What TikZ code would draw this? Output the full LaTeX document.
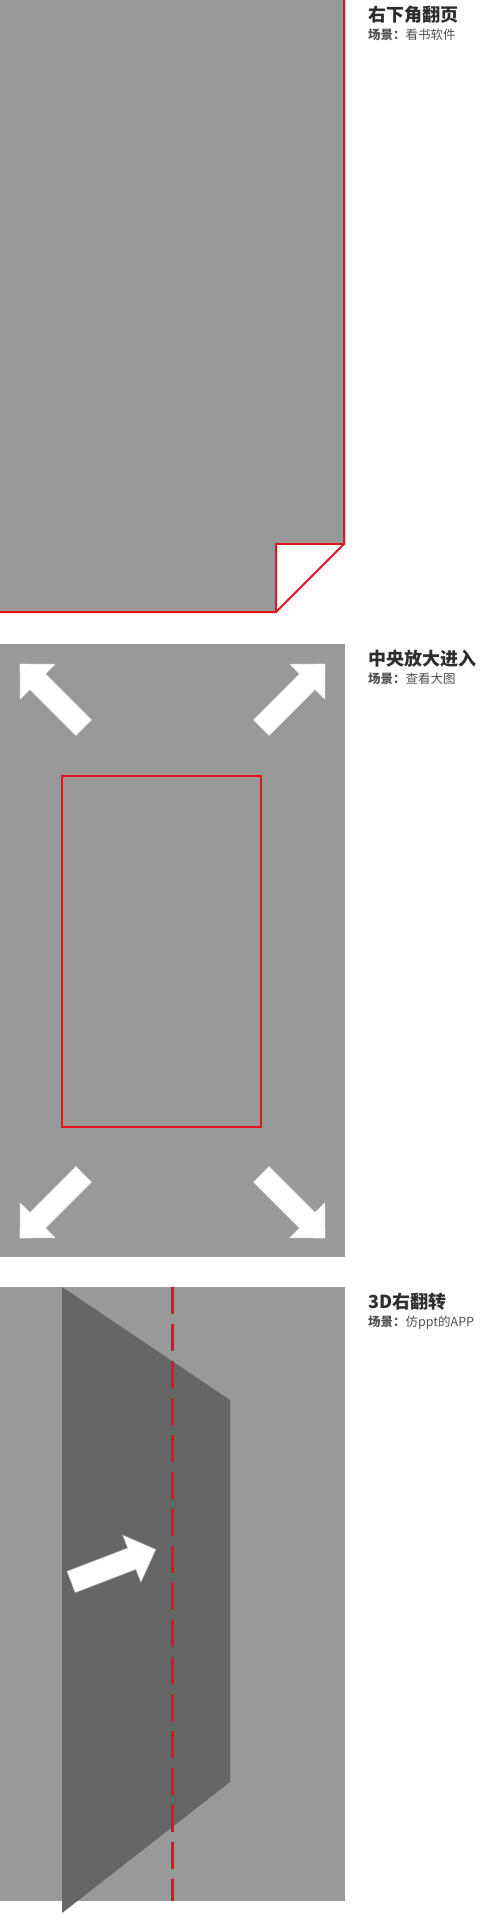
\documentclass[tikz,border=0pt]{standalone}
\usepackage{fontspec}
\newfontfamily\cjk{Noto Sans CJK SC}
\usepackage{xcolor}

\definecolor{pagegray}{RGB}{153,153,153}
\definecolor{darkpage}{RGB}{102,102,102}
\definecolor{markred}{RGB}{228,18,28}
\definecolor{titlegray}{RGB}{45,45,45}
\definecolor{subgray}{RGB}{80,80,80}

\begin{document}
\begin{tikzpicture}[
  x=1pt, y=-1pt,
  page/.style={fill=pagegray},
  redline/.style={draw=markred, line width=2pt},
  foldline/.style={draw=markred, line width=3pt, dash pattern=on 27pt off 10pt},
  fatarrow/.pic={
    \fill[white, draw=black!35, line width=0.5pt]
      (0,-11.5) -- (65,-11.5) -- (65,-25.5) -- (91,0) -- (65,25.5) -- (65,11.5) -- (0,11.5) -- cycle;
  },
  title/.style={anchor=base west, inner sep=0pt, text=titlegray, font=\cjk\bfseries\fontsize{18}{20}\selectfont},
  subtitle/.style={anchor=base west, inner sep=0pt, text=subgray, font=\cjk\fontsize{12.5}{15}\selectfont}
]
\useasboundingbox (0,0) rectangle (480,1915);

% page turn at the lower right corner
\coordinate (fold) at (276,544);
\fill[page] (0,0) -- (344,0) -- (344,544) -- (fold) -- (276,612) -- (0,612) -- cycle;
\draw[redline] (344,0) -- (344,544) -- (276,612) -- (0,612);
\draw[redline] (344,544) -- (fold) -- (276,612);
\node[title] (title1) at (368,21) {右下角翻页};
\node[subtitle] (sub1) at (368,39) {{\bfseries 场景：}看书软件};

% zoom in from the centre
\fill[page] (0,644) rectangle (345,1257);
\draw[redline] (62,776) rectangle (261,1127);
\pic[rotate=135] (arrNW) at (84,728) {fatarrow};
\pic[rotate=45] (arrNE) at (261,728) {fatarrow};
\pic[rotate=225] (arrSW) at (84,1174) {fatarrow};
\pic[rotate=-45] (arrSE) at (261,1174) {fatarrow};
\node[title] (title2) at (368,665) {中央放大进入};
\node[subtitle] (sub2) at (368,683) {{\bfseries 场景：}查看大图};

% 3D turn to the right
\fill[page] (0,1287) rectangle (345,1901);
\fill[darkpage] (62,1287) -- (230,1400) -- (230,1782) -- (62,1913) -- cycle;
\draw[foldline] (172,1287) -- (172,1901);
\pic[rotate=21] (arrTurn) at (71,1582) {fatarrow};
\node[title] (title3) at (368,1308) {3D右翻转};
\node[subtitle] (sub3) at (368,1326) {{\bfseries 场景：}仿ppt的APP};
\end{tikzpicture}
\end{document}
